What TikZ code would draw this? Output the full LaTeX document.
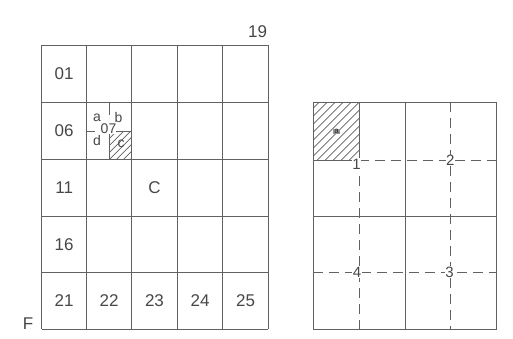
\documentclass[tikz,border=0pt]{standalone}
\usepackage{fontspec}
\setmainfont{Liberation Sans}
\begin{document}
\begin{tikzpicture}[x=1pt,y=-1pt,
  gl/.style={draw=black!62,line width=1pt},
  dl/.style={draw=black!62,line width=1pt,dash pattern=on 10pt off 6pt},
  hl/.style={draw=black!62,line width=0.7pt},
  big/.style={text=black!72,font=\fontsize{17}{19}\selectfont,inner sep=0.5pt},
  sml/.style={text=black!72,font=\fontsize{14}{15}\selectfont,inner sep=0.2pt},
  num/.style={text=black!72,font=\fontsize{15}{17}\selectfont,inner sep=0.6pt,fill=white}]
\useasboundingbox (0,0) rectangle (513,338);
\fill[white] (0,0) rectangle (513,338);
% ---------- left grid ----------
\foreach \x in {41.7,86.7,131.7,177.3,222.7,268.3} \draw[gl] (\x,45) -- (\x,329.4);
\foreach \y in {45,102.3,159.3,216,272.7,329.4} \draw[gl] (41.7,\y) -- (268.3,\y);
% cell 07 subdivision
\draw[gl] (109.5,102.3) -- (109.5,115);
\draw[gl] (86.7,131.5) -- (95,131.5);
\begin{scope}
  \clip (109.5,131.5) rectangle (131.7,159.3);
  \foreach \i in {0,7,...,56} \draw[hl] (109.5+\i-28,159.3) -- ++(30,-30);
\end{scope}
\draw[gl] (109.5,159.3) -- (109.5,131.5) -- (131.7,131.5);
\node[sml] (la) at (97,117.5) {a};
\node[sml] (lb) at (118.5,117) {b};
\node[sml] (ld) at (97,140) {d};
\node[sml] (lc) at (121,144) {c};
\node[sml,fill=white,inner sep=0.1pt] (l07) at (108.5,128.5) {07};
% labels
\node[big] (t01) at (64.2,73.7) {01};
\node[big] (t06) at (64.2,130.8) {06};
\node[big] (t11) at (64.2,187.6) {11};
\node[big] (t16) at (64.2,244.3) {16};
\node[big] (t21) at (64.2,301) {21};
\node[big] (t22) at (109.2,301) {22};
\node[big] (t23) at (154.5,301) {23};
\node[big] (t24) at (200,301) {24};
\node[big] (t25) at (245.5,301) {25};
\node[big] (tC) at (154.5,187.6) {C};
\node[big] (t19) at (257.5,32) {19};
\node[big] (tF) at (28,324) {F};
% ---------- right grid ----------
\begin{scope}
  \clip (313.3,102.3) rectangle (359.3,160);
  \foreach \i in {0,8,...,112} \draw[hl] (313.3+\i-60,160) -- ++(62,-62);
\end{scope}
\draw[gl] (313.3,102.3) rectangle (496,329);
\draw[gl] (405,102.3) -- (405,329);
\draw[gl] (313.3,216.7) -- (496,216.7);
\draw[gl] (313.3,160) -- (359.3,160) -- (359.3,102.3);
\draw[dl] (359.3,160) -- (359.3,329);
\draw[dl] (359.3,160) -- (496,160);
\draw[dl] (450.7,102.3) -- (450.7,329);
\draw[dl] (313.3,272.7) -- (496,272.7);
\node[fill=black!40,text=black!85,inner sep=0.8pt,font=\fontsize{8}{8}\selectfont] (ra) at (336.5,131.5) {a};
\node[num] (n1) at (356.5,164) {1};
\node[num] (n2) at (450.3,160.5) {2};
\node[num] (n3) at (449.5,272) {3};
\node[num] (n4) at (357,272) {4};
\end{tikzpicture}
\end{document}
